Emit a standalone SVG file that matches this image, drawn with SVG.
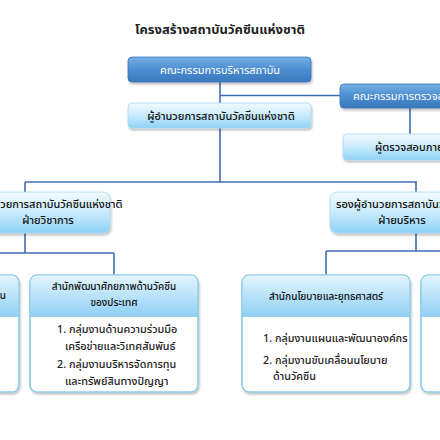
<svg xmlns="http://www.w3.org/2000/svg" width="440" height="440" viewBox="0 0 440 440">
<style>
text{font-family:"Noto Sans Thai","Noto Sans","Liberation Sans",sans-serif;}
.title{font-size:13px;font-weight:bold;fill:#222;text-anchor:middle;}
.w{font-size:11px;fill:#fff;}
.d{font-size:11px;fill:#111;font-weight:500;}
.h{font-size:10px;fill:#111;font-weight:500;}
.b{font-size:10.8px;fill:#222;font-weight:500;}
.m{text-anchor:middle;}
.dk{fill:url(#gDark);stroke:#3a75b8;stroke-width:0.8;}
.lt{fill:url(#gLight);stroke:#a9d8f0;stroke-width:0.8;}
.card{fill:#fff;stroke:#8fcbe6;stroke-width:1.2;}
.hdr{fill:url(#gHdr);}
.c line{stroke:#3f6db3;stroke-width:1.6;}
</style>
<defs>
<linearGradient id="gDark" x1="0" y1="0" x2="0" y2="1"><stop offset="0" stop-color="#76b0e4"/><stop offset="0.5" stop-color="#4d8dd0"/><stop offset="1" stop-color="#3a78bd"/></linearGradient>
<linearGradient id="gLight" x1="0" y1="0" x2="0" y2="1"><stop offset="0" stop-color="#f2fafe"/><stop offset="0.5" stop-color="#c9ebfc"/><stop offset="1" stop-color="#8dd1f6"/></linearGradient>
<linearGradient id="gHdr" x1="0" y1="0" x2="0" y2="1"><stop offset="0" stop-color="#e4f5fd"/><stop offset="1" stop-color="#8ed0f5"/></linearGradient>
<filter id="sh" x="-10%" y="-20%" width="120%" height="150%"><feDropShadow dx="1" dy="2" stdDeviation="1.2" flood-color="#000" flood-opacity="0.25"/></filter>
<clipPath id="cp2"><rect x="30" y="275" width="168" height="117" rx="7"/></clipPath>
<clipPath id="cp3"><rect x="242" y="275" width="168" height="117" rx="7"/></clipPath>
<clipPath id="cp1"><rect x="-150" y="275" width="169" height="117" rx="7"/></clipPath>
<clipPath id="cp4"><rect x="421" y="275" width="168" height="117" rx="7"/></clipPath>
</defs>
<rect width="440" height="440" fill="#fff"/>
<text class="title" x="220" y="34">โครงสร้างสถาบันวัคซีนแห่งชาติ</text>

<g class="c" id="connectors">
<line x1="220" y1="82" x2="220" y2="103"/>
<line x1="220" y1="95.5" x2="340" y2="95.5"/>
<line x1="410" y1="108" x2="410" y2="134"/>
<line x1="220" y1="128" x2="220" y2="182"/>
<line x1="25" y1="182" x2="417" y2="182"/>
<line x1="25" y1="182" x2="25" y2="193"/>
<line x1="416" y1="182" x2="416" y2="193"/>
<line x1="25" y1="233" x2="25" y2="253"/>
<line x1="0" y1="253" x2="114" y2="253"/>
<line x1="114" y1="253" x2="114" y2="275"/>
<line x1="416" y1="233" x2="416" y2="251"/>
<line x1="326" y1="251" x2="440" y2="251"/>
<line x1="326" y1="251" x2="326" y2="275"/>
</g>

<g id="board">
<rect class="dk" x="128" y="57" width="183" height="25" rx="4" filter="url(#sh)"/>
<text class="w m" x="220" y="73.5">คณะกรรมการบริหารสถาบัน</text>
</g>
<g id="audit-committee">
<rect class="dk" x="340" y="84" width="120" height="24" rx="4" filter="url(#sh)"/>
<text class="w" x="353" y="100">คณะกรรมการตรวจสอบ</text>
</g>
<g id="director">
<rect class="lt" x="128" y="103" width="183" height="25" rx="4" filter="url(#sh)"/>
<text class="d m" x="221" y="119.5">ผู้อำนวยการสถาบันวัคซีนแห่งชาติ</text>
</g>
<g id="internal-auditor">
<rect class="lt" x="343" y="134" width="120" height="26" rx="4" filter="url(#sh)"/>
<text class="d" x="375" y="151">ผู้ตรวจสอบภายใน</text>
</g>
<g id="deputy-academic">
<rect class="lt" x="-40" y="192" width="150" height="41" rx="7" filter="url(#sh)"/>
<text class="d m" x="40" y="208">รองผู้อำนวยการสถาบันวัคซีนแห่งชาติ</text>
<text class="d m" x="48" y="224">ฝ่ายวิชาการ</text>
</g>
<g id="deputy-admin">
<rect class="lt" x="330" y="192" width="150" height="41" rx="7" filter="url(#sh)"/>
<text class="d" x="336" y="208">รองผู้อำนวยการสถาบันวัคซีนแห่งชาติ</text>
<text class="d m" x="402" y="224">ฝ่ายบริหาร</text>
</g>

<g id="office-1">
<rect class="card" x="-150" y="275" width="169" height="117" rx="7" filter="url(#sh)"/>
<rect class="hdr" x="-150" y="275" width="169" height="42" clip-path="url(#cp1)"/>
<rect x="-150" y="275" width="169" height="117" rx="7" fill="none" stroke="#8fcbe6" stroke-width="1.2"/>
<text class="h" x="6" y="299" text-anchor="end">สำนักวิจัยและพัฒนาวัคซีน</text>
</g>
<g id="office-2">
<rect class="card" x="30" y="275" width="168" height="117" rx="7" filter="url(#sh)"/>
<rect class="hdr" x="30" y="275" width="168" height="42" clip-path="url(#cp2)"/>
<rect x="30" y="275" width="168" height="117" rx="7" fill="none" stroke="#8fcbe6" stroke-width="1.2"/>
<text class="h m" x="114" y="290">สำนักพัฒนาศักยภาพด้านวัคซีน</text>
<text class="h m" x="114" y="306">ของประเทศ</text>
<text class="b" x="57" y="333">1. กลุ่มงานด้านความร่วมมือ</text>
<text class="b" x="65" y="350">เครือข่ายและวิเทศสัมพันธ์</text>
<text class="b" x="57" y="368">2. กลุ่มงานบริหารจัดการทุน</text>
<text class="b" x="65" y="385">และทรัพย์สินทางปัญญา</text>
</g>
<g id="office-3">
<rect class="card" x="242" y="275" width="168" height="117" rx="7" filter="url(#sh)"/>
<rect class="hdr" x="242" y="275" width="168" height="42" clip-path="url(#cp3)"/>
<rect x="242" y="275" width="168" height="117" rx="7" fill="none" stroke="#8fcbe6" stroke-width="1.2"/>
<text class="h m" x="326" y="300">สำนักนโยบายและยุทธศาสตร์</text>
<text class="b" x="263" y="342">1. กลุ่มงานแผนและพัฒนาองค์กร</text>
<text class="b" x="263" y="364">2. กลุ่มงานขับเคลื่อนนโยบาย</text>
<text class="b" x="273" y="380">ด้านวัคซีน</text>
</g>
<g id="office-4">
<rect class="card" x="421" y="275" width="168" height="117" rx="7" filter="url(#sh)"/>
<rect class="hdr" x="421" y="275" width="168" height="42" clip-path="url(#cp4)"/>
<rect x="421" y="275" width="168" height="117" rx="7" fill="none" stroke="#8fcbe6" stroke-width="1.2"/>
</g>
</svg>
